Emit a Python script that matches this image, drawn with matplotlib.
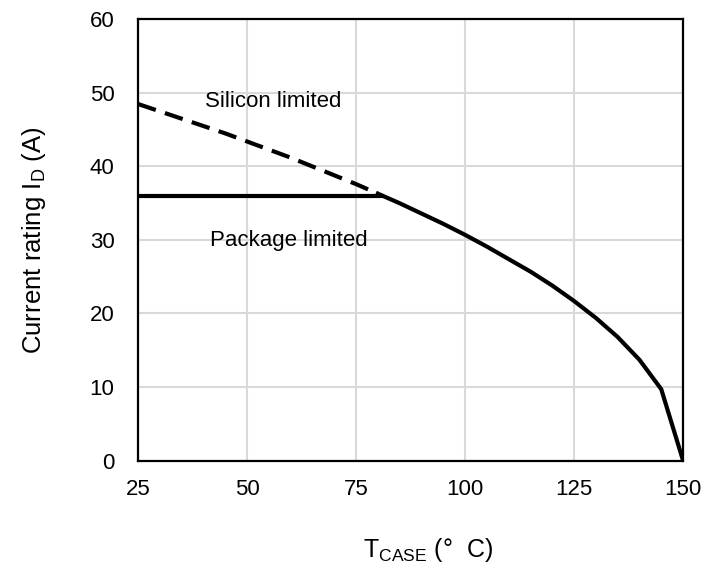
import matplotlib
matplotlib.use('Agg')
import matplotlib.pyplot as plt

plt.rcParams['font.family'] = ['Liberation Sans', 'DejaVu Sans']
plt.rcParams['mathtext.fontset'] = 'custom'
plt.rcParams['mathtext.rm'] = 'Liberation Sans'

# 数据：壳温 vs 电流额定值
t_silicon = [25, 30, 35, 40, 45, 50, 55, 60, 65, 70, 75, 80]
i_silicon = [48.5, 47.5, 46.5, 45.5, 44.5, 43.4, 42.3, 41.2, 40.0, 38.8, 37.6, 36.3]

t_curve = [80, 85, 90, 95, 100, 105, 110, 115, 120, 125, 130, 135, 140, 145, 150]
i_curve = [36.3, 35.0, 33.6, 32.2, 30.7, 29.1, 27.4, 25.7, 23.8, 21.7, 19.4, 16.8, 13.7, 9.7, 0.0]

t_package = [25, 81]
i_package = [36, 36]

x_ticks = [25, 50, 75, 100, 125, 150]
y_ticks = [0, 10, 20, 30, 40, 50, 60]

fig = plt.figure(figsize=(7.19, 5.64), dpi=100)
ax = fig.add_axes([0.192, 0.1835, 0.758, 0.782])

ax.plot(t_silicon, i_silicon, color='black', lw=3, linestyle=(0, (4.5, 2.3)))
ax.plot(t_curve, i_curve, color='black', lw=3, solid_joinstyle='miter')
ax.plot(t_package, i_package, color='black', lw=3)

ax.set_xlim(25, 150)
ax.set_ylim(0, 60)
ax.set_xticks(x_ticks)
ax.set_yticks(y_ticks)
ax.grid(True, color='#d9d9d9', lw=1.5)
ax.set_axisbelow(True)
for s in ax.spines.values():
    s.set_linewidth(1.6)
    s.set_color('black')
ax.tick_params(axis='both', length=0, labelsize=16)
ax.tick_params(axis='y', pad=17)
ax.tick_params(axis='x', pad=13)

ax.text(55.9, 48.9, 'Silicon limited', fontsize=16, ha='center', va='center')
ax.text(59.6, 29.9, 'Package limited', fontsize=16, ha='center', va='center')

ax.set_xlabel(r'T$_\mathrm{CASE}$ (°  C)', fontsize=18, va='center')
ax.xaxis.set_label_coords(0.532, -0.203)
ax.set_ylabel(r'Current rating I$_\mathrm{D}$ (A)', fontsize=18.5, labelpad=30)

plt.savefig('out.png', dpi=100)
